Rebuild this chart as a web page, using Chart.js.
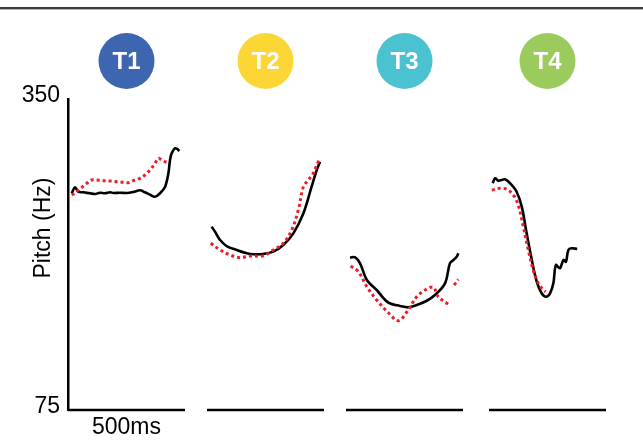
<!DOCTYPE html>
<html>
<head>
<meta charset="utf-8">
<title>Pitch contours T1-T4</title>
<script src="https://cdn.jsdelivr.net/npm/chart.js@4/dist/chart.umd.min.js"></script>
<style>
  html, body { margin: 0; padding: 0; background: #fff; }
  #wrap { width: 643px; height: 440px; position: relative; }
</style>
</head>
<body>
<div id="wrap"><canvas id="pitchChart"></canvas></div>
<script>
// tone names and where each 500 ms panel starts on the shared time axis (ms)
const toneNames = ['T1', 'T2', 'T3', 'T4'];
const toneColors = ['#3d65b0', '#fcd634', '#4ac2cf', '#9bcb5c'];
const toneOffsetMs = [0, 594, 1188, 1799];
const panelLengthMs = 500;
const yTicks = [75, 350];

// T1
const t1SolidMs = [16, 30, 44, 65, 94, 115, 137, 158, 180, 194, 222, 251, 279, 308, 329, 350, 372, 393, 415, 429, 436, 443, 457, 467, 476];
const t1SolidHz = [266.6, 271.9, 268, 267.5, 266.6, 266, 267.1, 266.6, 267.5, 266.9, 267.1, 266.9, 267.8, 269.3, 267.5, 265.4, 263.6, 266.6, 272.5, 284.3, 296.1, 302, 306.4, 305.8, 304];
const t1DotMs = [16, 37, 59, 80, 101, 123, 151, 180, 208, 236, 258, 279, 308, 329, 350, 372, 386, 400, 422, 433];
const t1DotHz = [265.1, 268, 271.9, 275.4, 278.4, 278.4, 277.8, 277.5, 276.9, 276.3, 276, 277.8, 279.9, 282.8, 287.2, 293.1, 297.6, 296.1, 294, 293.7];

// T2
const t2SolidMs = [20, 34, 56, 84, 127, 170, 198, 241, 283, 326, 369, 412, 447, 469, 483];
const t2SolidHz = [237.1, 232.7, 225.3, 220, 216.5, 213.6, 212.7, 213, 215, 220.9, 231.2, 248.9, 272.5, 287.2, 294.6];
const t2DotMs = [16, 56, 98, 141, 184, 241, 283, 326, 362, 390, 412, 433, 454, 476, 486];
const t2DotHz = [222.4, 216.5, 212.1, 209.7, 211.2, 211.4, 216.5, 222.4, 234.2, 251.8, 272.5, 278.4, 284.3, 294.6, 296.1];

// T3
const t3SolidMs = [17, 39, 60, 89, 131, 181, 231, 266, 302, 345, 380, 423, 444, 459, 473, 480];
const t3SolidHz = [209.7, 210, 204.7, 190, 181.1, 169.9, 167, 165.8, 167.8, 171.6, 176.7, 187, 204.7, 207.6, 210.6, 213.6];
const t3DotMs = [20, 53, 89, 131, 181, 224, 266, 302, 338, 373, 394, 437, 450, 462, 480];
const t3DotHz = [202.3, 197.3, 184, 172.3, 161, 154, 163.4, 175.2, 181.1, 183.5, 175.2, 168.5, null, 185.5, 190.6];

// T4
const t4SolidMs = [16, 26, 40, 54, 68, 90, 118, 140, 161, 183, 204, 225, 244, 261, 275, 286, 303, 318, 329, 339, 353, 377];
const t4SolidHz = [275.5, 279.9, 277.8, 278.4, 279, 275.5, 268, 254.8, 231.2, 207.6, 188.5, 178.2, 175.2, 178.2, 187, 203.2, 200.3, 207.6, 206.1, 216.5, 218, 217.4];
const t4DotMs = [12, 47, 76, 104, 125, 147, 168, 189, 211, 232, 242];
const t4DotHz = [269.5, 271, 270.2, 265.1, 256.3, 237.1, 216.5, 198.8, 187, 181.1, 179.6];

const solidMs = [t1SolidMs, t2SolidMs, t3SolidMs, t4SolidMs];
const solidHz = [t1SolidHz, t2SolidHz, t3SolidHz, t4SolidHz];
const dotMs = [t1DotMs, t2DotMs, t3DotMs, t4DotMs];
const dotHz = [t1DotHz, t2DotHz, t3DotHz, t4DotHz];

const FONT = '"Liberation Sans", Arial, sans-serif';

function toPoints(times, values, offset) {
    return times.map((t, k) => ({ x: offset + t, y: values[k] }));
}

const datasets = [];
toneNames.forEach((name, i) => {
    const off = toneOffsetMs[i];
    // 500 ms bar under each panel
    datasets.push({
        label: name + ' 500ms',
        data: [{ x: off, y: yTicks[0] }, { x: off + panelLengthMs, y: yTicks[0] }],
        borderColor: '#000',
        borderWidth: 2.5,
        pointRadius: 0,
        clip: false
    });
    datasets.push({
        label: name + ' dotted',
        data: toPoints(dotMs[i], dotHz[i], off),
        borderColor: '#ee1c24',
        borderWidth: 3,
        borderDash: [3, 3],
        borderCapStyle: 'butt',
        pointRadius: 0,
        tension: 0.35,
        spanGaps: false,
        clip: false
    });
    datasets.push({
        label: name + ' solid',
        data: toPoints(solidMs[i], solidHz[i], off),
        borderColor: '#000',
        borderWidth: 2.6,
        pointRadius: 0,
        tension: 0.35,
        clip: false
    });
});

// rule at top, tone badges, axis title and the 500ms label
const decorPlugin = {
    id: 'decor',
    beforeDraw(chart) {
        const ctx = chart.ctx;
        ctx.save();
        ctx.fillStyle = '#3a3a3a';
        ctx.fillRect(0, 7, chart.width, 2);
        ctx.fillStyle = '#b5b5b5';
        ctx.fillRect(0, 9, chart.width, 1);
        ctx.restore();
    },
    afterDraw(chart) {
        const ctx = chart.ctx;
        const xs = chart.scales.x;
        const area = chart.chartArea;
        ctx.save();
        toneNames.forEach((name, i) => {
            const cx = xs.getPixelForValue(toneOffsetMs[i] + panelLengthMs / 2);
            ctx.beginPath();
            ctx.arc(cx, 61, 28, 0, Math.PI * 2);
            ctx.fillStyle = toneColors[i];
            ctx.fill();
            ctx.fillStyle = '#fff';
            ctx.font = 'bold 24px ' + FONT;
            ctx.textAlign = 'center';
            ctx.textBaseline = 'middle';
            ctx.fillText(name, cx, 62);
        });

        ctx.fillStyle = '#000';
        ctx.font = '23px ' + FONT;
        ctx.textAlign = 'center';
        ctx.textBaseline = 'middle';
        ctx.fillText('500ms', xs.getPixelForValue(panelLengthMs / 2), 428);

        ctx.translate(44, 228);
        ctx.rotate(-Math.PI / 2);
        ctx.fillText('Pitch (Hz)', 0, 0);
        ctx.restore();
    }
};

const chart = new Chart(document.getElementById('pitchChart'), {
    type: 'line',
    data: { datasets: datasets },
    options: {
        responsive: true,
        maintainAspectRatio: false,
        animation: false,
        layout: { padding: { top: 99, right: 37, bottom: 30, left: 0 } },
        plugins: {
            legend: { display: false },
            tooltip: { enabled: false }
        },
        scales: {
            x: {
                type: 'linear',
                min: 0,
                max: toneOffsetMs[3] + panelLengthMs,
                display: false
            },
            y: {
                type: 'linear',
                min: yTicks[0],
                max: yTicks[1],
                afterFit(scale) { scale.width = 68; },
                afterBuildTicks(scale) { scale.ticks = yTicks.map(v => ({ value: v })); },
                grid: { display: false, drawTicks: false },
                border: { display: true, color: '#000', width: 2.5 },
                ticks: {
                    color: '#000',
                    font: { family: FONT, size: 23 },
                    padding: 8,
                    labelOffset: -3
                }
            }
        }
    },
    plugins: [decorPlugin]
});
</script>
</body>
</html>
